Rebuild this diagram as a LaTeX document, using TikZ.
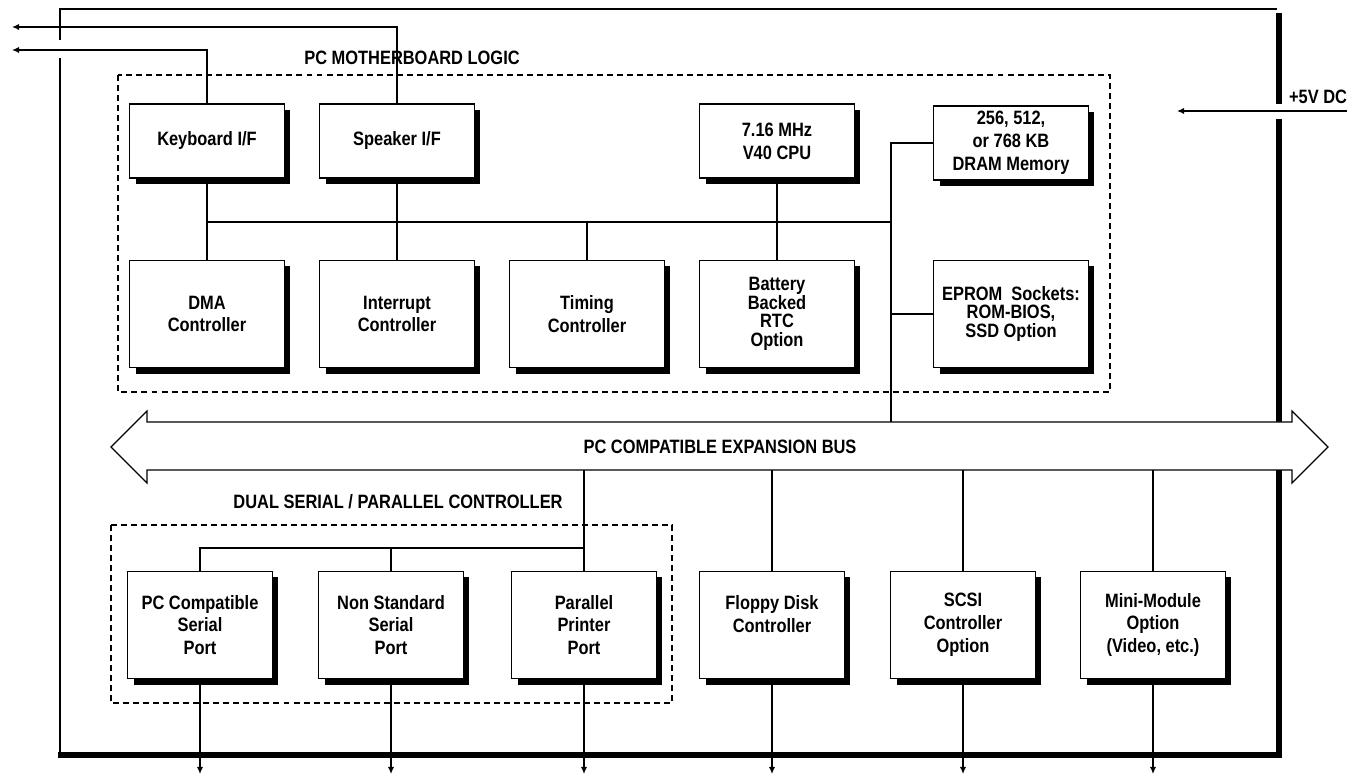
\documentclass[tikz,border=0pt]{standalone}
\usepackage{fontspec}
\setmainfont{Liberation Sans}[FakeStretch=0.85]
\usetikzlibrary{positioning,arrows.meta,shadows}
\tikzset{
  blk/.style={draw, line width=0.8pt, fill=white, align=center, inner sep=2pt,
    minimum width=3.1cm, font=\bfseries\fontsize{11}{13}\selectfont,
    drop shadow={shadow xshift=0.12cm, shadow yshift=-0.12cm, opacity=1, fill=black}},
  toprow/.style={blk, minimum height=1.48cm},
  midrow/.style={blk, minimum height=2.15cm},
  lowrow/.style={blk, minimum height=2.15cm, minimum width=2.9cm},
  tight/.style={font=\bfseries\fontsize{11}{10.5}\selectfont},
  grpbox/.style={draw, line width=0.7pt, dash pattern=on 3.4pt off 2.3pt},
  grplabel/.style={font=\bfseries\fontsize{11}{13}\selectfont, inner sep=1pt},
  wire/.style={line width=0.7pt},
  outarrow/.style={wire, -{Latex[length=4pt,width=3.5pt]}},
  boardedge/.style={line width=3.4pt},
}
\begin{document}
\begin{tikzpicture}[x=0.02cm, y=-0.02cm]
  \useasboundingbox (0,0) rectangle (1356,776);
  % board outline
  \draw[wire] (60,40) -- (60,9) -- (1277,9);
  \draw[wire] (60,58) -- (60,755);
  \draw[boardedge] (1279,13) -- (1279,104);
  \draw[boardedge] (1279,119) -- (1279,755) -- (58,755);

  % dashed groups
  \draw[grpbox] (118,75) rectangle (1110,392);
  \node[grplabel] (mblabel) at (412,58) {PC MOTHERBOARD LOGIC};
  \draw[grpbox] (111,525) rectangle (672,703);
  \node[grplabel] (splabel) at (398,502) {DUAL SERIAL / PARALLEL CONTROLLER};

  % expansion bus
  \coordinate (bustop) at (720,422);
  \coordinate (busbot) at (720,470);
  \draw[wire, fill=white] (111,447) -- (147,411) -- (147,422) -- (1292,422) -- (1292,411)
    -- (1328,447) -- (1292,483) -- (1292,470) -- (147,470) -- (147,483) -- cycle;
  \node[grplabel] (bus) at (720,447) {PC COMPATIBLE EXPANSION BUS};

  % motherboard blocks
  \node[toprow] (kbd) at (207,141) {Keyboard I/F};
  \node[toprow] (spk) at (397,141) {Speaker I/F};
  \node[toprow] (cpu) at (777,141) {7.16 MHz\\V40 CPU};
  \node[toprow] (dram) at (1011,143) {256, 512,\\or 768 KB\\DRAM Memory};
  \node[midrow] (dma) at (207,314) {DMA\\Controller};
  \node[midrow] (irq) at (397,314) {Interrupt\\Controller};
  \node[midrow] (tmr) at (587,314) {Timing\\Controller};
  \node[midrow, tight] (rtc) at (777,314) {Battery\\Backed\\RTC\\Option};
  \node[midrow, tight] (eprom) at (1011,314) {EPROM~~Sockets:\\ROM-BIOS,\\SSD Option};

  % local bus
  \coordinate (tap) at (891,222);
  \draw[wire] (kbd.south) -- (dma.north);
  \draw[wire] (spk.south) -- (irq.north);
  \draw[wire] (cpu.south) -- (rtc.north);
  \draw[wire] (kbd.south |- tap) -- (tap);
  \draw[wire] (tmr.north) -- (tmr.north |- tap);
  \draw[wire] (dram.west) -- (dram.west -| tap) -- (tap |- bustop);
  \draw[wire] (eprom.west) -- (eprom.west -| tap);

  % outputs at the top
  \coordinate (spkout) at (12,27);
  \coordinate (kbdout) at (12,50);
  \draw[outarrow] (spk.north) |- (spkout);
  \draw[outarrow] (kbd.north) |- (kbdout);
  \coordinate (pwrin) at (1347,111);
  \coordinate (pwrend) at (1177,111);
  \draw[outarrow] (pwrin) -- (pwrend);
  \node[grplabel, anchor=west] (pwr) at (1287,97) {+5V DC};

  % expansion blocks
  \node[lowrow] (sp1) at (200,625) {PC Compatible\\Serial\\Port};
  \node[lowrow] (sp2) at (391,625) {Non Standard\\Serial\\Port};
  \node[lowrow] (prn) at (584,625) {Parallel\\Printer\\Port};
  \node[lowrow] (fdc) at (772,625) {Floppy Disk\\Controller\\\mbox{}};
  \node[lowrow] (scsi) at (963,625) {SCSI\\Controller\\Option};
  \node[lowrow] (mini) at (1153,625) {Mini-Module\\Option\\(Video, etc.)};

  \coordinate (spbus) at (391,548);
  \draw[wire] (prn.north |- busbot) -- (prn.north);
  \draw[wire] (sp1.north) -- (sp1.north |- spbus) -- (prn.north |- spbus);
  \draw[wire] (sp2.north) -- (sp2.north |- spbus);
  \foreach \n in {fdc,scsi,mini} \draw[wire] (\n.north |- busbot) -- (\n.north);
  \coordinate (edge) at (0,774);
  \foreach \n in {sp1,sp2,prn,fdc,scsi,mini} \draw[outarrow] (\n.south) -- (\n.south |- edge);
\end{tikzpicture}
\end{document}
